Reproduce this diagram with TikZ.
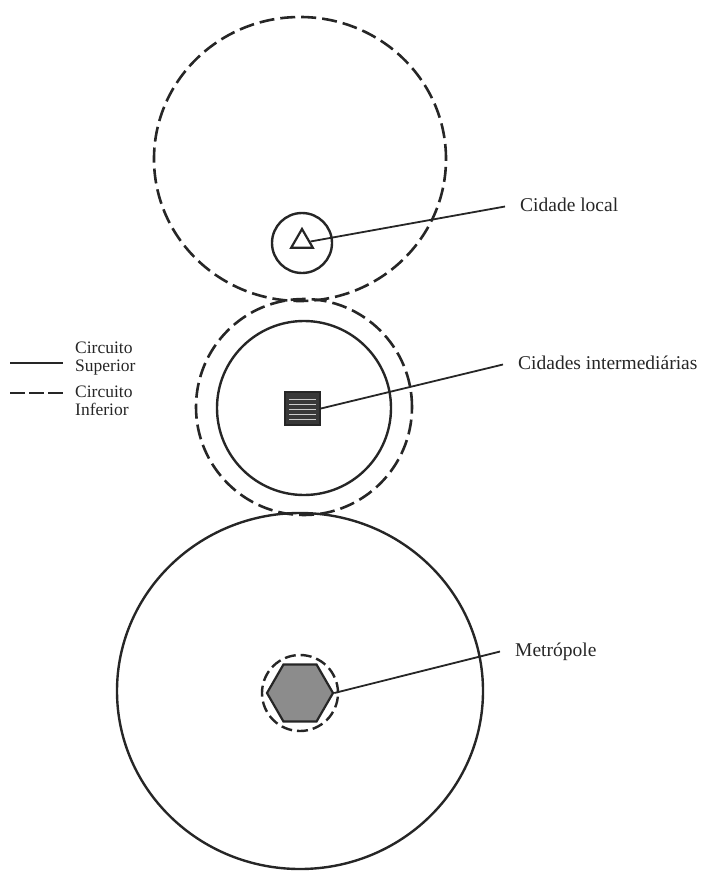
\documentclass[tikz,border=0pt]{standalone}
\usepackage{fontspec}
\setmainfont{Liberation Serif}
\usetikzlibrary{shapes.geometric}
\begin{document}
\begin{tikzpicture}[x=1pt,y=-1pt,
  solidring/.style={draw=black!85, line width=2.4pt, fill=none, inner sep=0pt},
  dashring/.style={draw=black!85, line width=2.6pt, dash pattern=on 15pt off 6pt, fill=none, inner sep=0pt},
  connector/.style={draw=black!85, line width=1.8pt},
  lbl/.style={font=\fontsize{19.5}{20}\selectfont, text=black!85, anchor=base west,
    inner xsep=15pt, inner ysep=0pt, text height=13pt, text depth=4pt},
  legtext/.style={font=\fontsize{17.5}{18}\selectfont, text=black!85, anchor=base west, inner sep=0pt},
]
\useasboundingbox (0,0) rectangle (708,872);

% big rings
\node[dashring, ellipse, minimum width=292pt, minimum height=284pt] (topring) at (300,159) {};
\node[dashring, circle, minimum size=216pt] (midouter) at (304,407) {};
\node[solidring, circle, minimum size=174pt] (midinner) at (304,408) {};
\node[solidring, ellipse, minimum width=366pt, minimum height=356pt] (botring) at (300,691) {};

% local city
\node[solidring, circle, minimum size=60pt] (locring) at (302,243) {};
\node[regular polygon, regular polygon sides=3, draw=black!85, line width=2.2pt,
      minimum size=25pt, inner sep=0pt] (tri) at (302,241.5) {};

% intermediate city square
\node[rectangle, draw=black!85, fill=black!78, line width=1.8pt,
      minimum width=35pt, minimum height=33pt, inner sep=0pt] (sq) at (302.5,408.5) {};
\foreach \dy in {-9,-4,1,6,11}
  \draw[white!60!gray, line width=1.1pt] (289,{408.5+\dy}) -- (316,{408.5+\dy});

% metropole
\node[regular polygon, regular polygon sides=6, draw=black!85, line width=2.2pt,
      fill=black!45, minimum size=66pt, inner sep=0pt] (hex) at (300,693) {};
\node[circle, draw=black!85, line width=2.4pt, dash pattern=on 11pt off 5pt,
      minimum size=76pt, inner sep=0pt] (hexring) at (300,693) {};

% labels
\node[lbl] (lloc) at (505,211) {Cidade local};
\node[lbl] (linter) at (503,369) {Cidades intermediárias};
\node[lbl] (lmet) at (500,656) {Metrópole};

\draw[connector] (tri.east) -- (lloc.west);
\draw[connector] (sq.east) -- (linter.west);
\draw[connector] (hex.east) -- (lmet.west);

% legend
\coordinate (s1) at (10,363);
\coordinate (s2) at (63,363);
\coordinate (d1) at (10,393);
\coordinate (d2) at (63,393);
\draw[draw=black!85, line width=2.6pt] (s1) -- (s2);
\draw[draw=black!85, line width=2.6pt, dash pattern=on 15pt off 4pt] (d1) -- (d2);
\node[legtext] (t1) at (75,353) {Circuito};
\node[legtext] (t2) at (75,371) {Superior};
\node[legtext] (t3) at (75,397) {Circuito};
\node[legtext] (t4) at (75,415) {Inferior};
\end{tikzpicture}
\end{document}
